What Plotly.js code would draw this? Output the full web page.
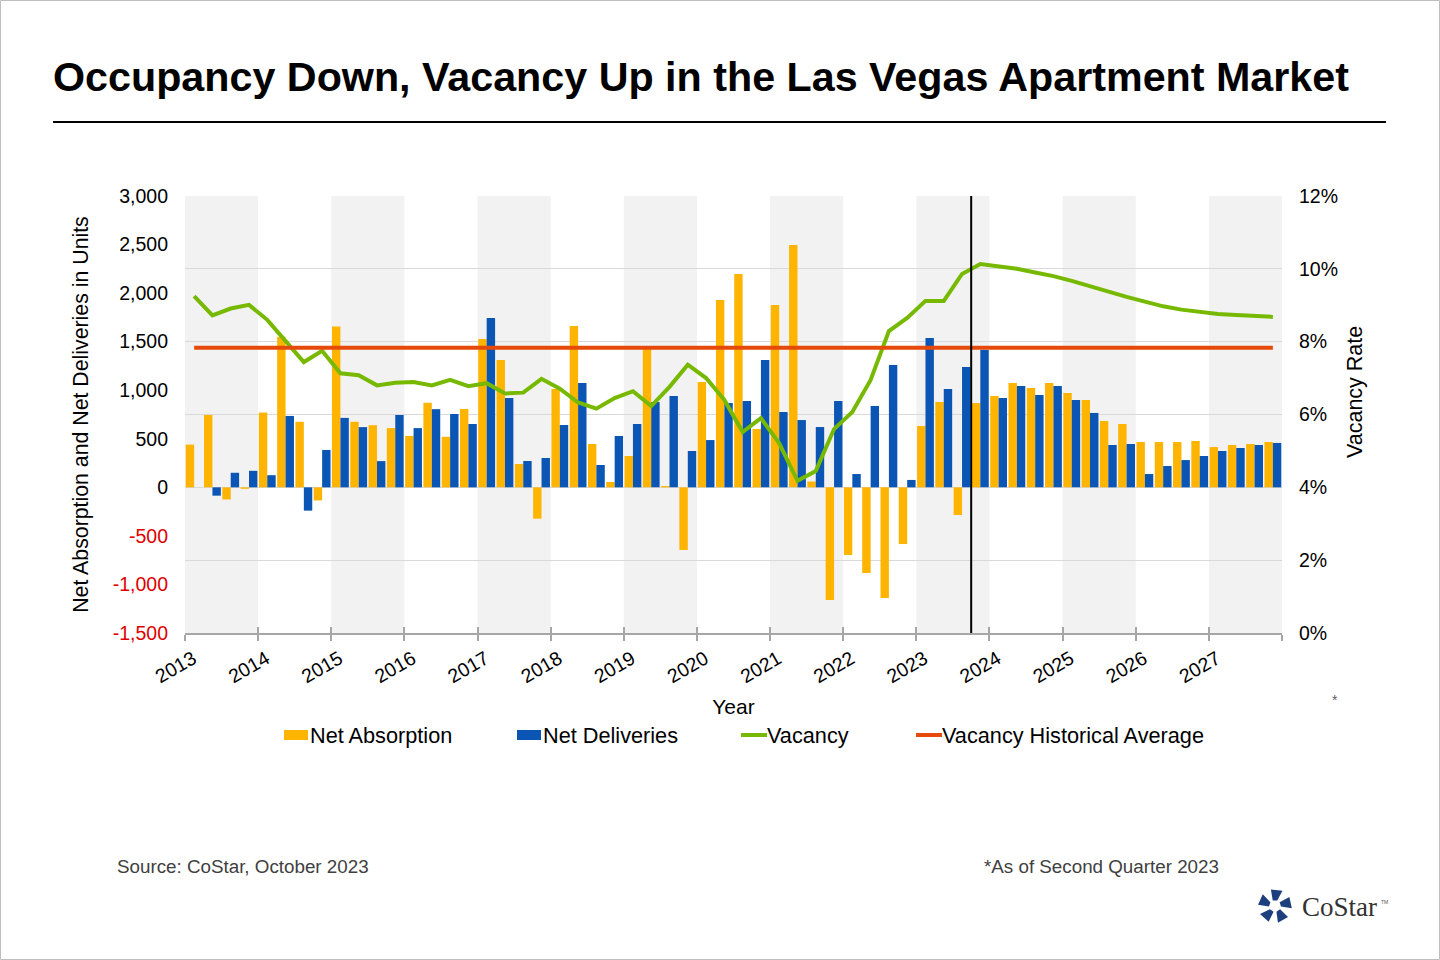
<!DOCTYPE html>
<html>
<head>
<meta charset="utf-8">
<script src="https://cdn.plot.ly/plotly-3.0.1.min.js"></script>
<style>
  html, body { margin: 0; padding: 0; background: #fff; }
  #chart { width: 1440px; height: 960px; }
</style>
</head>
<body>
<div id="chart"></div>
<script>
// quarterly values, 2013 Q1 .. 2027 Q4
const years = [2013, 2014, 2015, 2016, 2017, 2018, 2019, 2020, 2021, 2022, 2023, 2024, 2025, 2026, 2027];
const quarters = ['Q1', 'Q2', 'Q3', 'Q4'];

const netAbsorption = [
  440, 745, -125, -15,
  770, 1550, 675, -135,
  1655, 675, 640, 610,
  530, 870, 520, 807,
  1528, 1311, 240, -323,
  1013, 1662, 446, 55,
  323, 1425, 14, -645,
  1085, 1929, 2197, 601,
  1878, 2496, 60, -1160,
  -697, -882, -1140, -584,
  632, 879, -285, 868,
  940, 1075, 1023, 1075,
  971, 899, 683, 652,
  467, 467, 467, 477,
  415, 436, 446, 467
];

const netDeliveries = [
  0, -86, 150, 170,
  125, 735, -240, 385,
  715, 620, 270, 745,
  610, 805, 755, 652,
  1744, 920, 271, 302,
  642, 1075, 230, 529,
  652, 879, 940, 374,
  487, 868, 889, 1311,
  776, 693, 621, 889,
  137, 838, 1260, 76,
  1538, 1013, 1239, 1414,
  920, 1044, 951, 1044,
  899, 766, 436, 446,
  137, 220, 281, 323,
  374, 405, 436, 457
];

// vacancy rate, %
const vacancy = [
  9.25, 8.72, 8.91, 9.01,
  8.60, 8.00, 7.44, 7.75,
  7.13, 7.08, 6.80, 6.87,
  6.89, 6.80, 6.95, 6.78,
  6.86, 6.58, 6.60, 6.98,
  6.71, 6.33, 6.16, 6.45,
  6.64, 6.23, 6.76, 7.37,
  7.00, 6.40, 5.52, 5.90,
  5.21, 4.18, 4.45, 5.60,
  6.07, 6.95, 8.29, 8.65,
  9.12, 9.12, 9.86, 10.13,
  10.07, 10.00, 9.90, 9.80,
  9.67, 9.52, 9.37, 9.23,
  9.10, 8.97, 8.88, 8.81,
  8.76, 8.73, 8.71, 8.68
];
const vacancyHistoricalAverage = 7.83;
const forecastStart = 2023.75;

const leftTicks = [-1500, -1000, -500, 0, 500, 1000, 1500, 2000, 2500, 3000];
const legendLabels = ['Net Absorption', 'Net Deliveries', 'Vacancy', 'Vacancy Historical Average'];

const colors = {
  absorption: '#FFB400',
  deliveries: '#0B56B4',
  vacancy: '#76B900',
  average: '#E64A0A'
};
const font = 'Liberation Sans, Arial, sans-serif';
const axisGrey = '#A6A6A6';

// one x position per quarter, centred inside its year
const periods = years.flatMap(y => quarters.map((q, i) => y + (i + 0.5) / 4));

// pixel -> paper helpers (plot area is 185..1282 x 196..633)
const px = x => (x - 185) / 1097;
const py = y => (633 - y) / 437;

const traces = [
  {
    x: periods, y: netAbsorption, type: 'bar', name: legendLabels[0],
    marker: { color: colors.absorption }, showlegend: false
  },
  {
    x: periods, y: netDeliveries, type: 'bar', name: legendLabels[1],
    marker: { color: colors.deliveries }, showlegend: false
  },
  {
    x: periods, y: vacancy, type: 'scatter', mode: 'lines', name: legendLabels[2], yaxis: 'y2',
    line: { color: colors.vacancy, width: 4 }, showlegend: false
  },
  {
    x: periods, y: periods.map(() => vacancyHistoricalAverage), type: 'scatter', mode: 'lines',
    name: legendLabels[3], yaxis: 'y2',
    line: { color: colors.average, width: 4 }, showlegend: false
  },
  // empty traces so the helper axes (labels / inner ticks) get drawn
  { x: [], y: [], type: 'scatter', xaxis: 'x2', showlegend: false, hoverinfo: 'skip' },
  { x: [], y: [], type: 'scatter', xaxis: 'x3', showlegend: false, hoverinfo: 'skip' }
];

const shapes = [];
years.forEach((y, i) => {
  if (i % 2 === 0) {
    shapes.push({
      type: 'rect', xref: 'x', yref: 'paper', x0: y, x1: y + 1, y0: 0, y1: 1,
      fillcolor: '#F2F2F2', line: { width: 0 }, layer: 'below'
    });
  }
});
shapes.push({
  type: 'line', xref: 'x', yref: 'paper', x0: forecastStart, x1: forecastStart, y0: 0, y1: 1,
  line: { color: '#000', width: 2 }, layer: 'above'
});
// rule under the title
shapes.push({
  type: 'line', xref: 'paper', yref: 'paper', x0: px(53), x1: px(1386), y0: py(122), y1: py(122),
  line: { color: '#000', width: 2 }
});
// frame
shapes.push({
  type: 'rect', xref: 'paper', yref: 'paper', x0: px(0.5), x1: px(1439.5), y0: py(959.5), y1: py(0.5),
  line: { color: '#BFBFBF', width: 1 }
});

// legend drawn by hand to match the source spacing
const legendY = 735;
const legendItems = [
  { x: 284, text: legendLabels[0], kind: 'box', color: colors.absorption },
  { x: 517, text: legendLabels[1], kind: 'box', color: colors.deliveries },
  { x: 741, text: legendLabels[2], kind: 'line', color: colors.vacancy },
  { x: 916, text: legendLabels[3], kind: 'line', color: colors.average }
];
const annotations = [];
legendItems.forEach(it => {
  if (it.kind === 'box') {
    shapes.push({
      type: 'rect', xref: 'paper', yref: 'paper', x0: px(it.x), x1: px(it.x + 24),
      y0: py(legendY + 5), y1: py(legendY - 5), fillcolor: it.color, line: { width: 0 }
    });
  } else {
    shapes.push({
      type: 'line', xref: 'paper', yref: 'paper', x0: px(it.x), x1: px(it.x + 26),
      y0: py(legendY), y1: py(legendY), line: { color: it.color, width: 4 }
    });
  }
  annotations.push({
    xref: 'paper', yref: 'paper', x: px(it.x + 24), y: py(legendY), xanchor: 'left', yanchor: 'middle',
    text: it.text, showarrow: false, font: { family: font, size: 21.7, color: '#000' }
  });
});

// CoStar mark: five blades around a centre
const logoCx = 1275, logoCy = 906;
for (let k = 0; k < 5; k++) {
  const t = -90 + 72 * k;
  const pts = [[6, t - 22], [6, t + 22], [17, t + 26], [17, t - 14]].map(([r, a]) => {
    const rad = a * Math.PI / 180;
    return [px(logoCx + r * Math.cos(rad)), py(logoCy + r * Math.sin(rad))];
  });
  shapes.push({
    type: 'path', xref: 'paper', yref: 'paper',
    path: 'M' + pts.map(p => p[0] + ',' + p[1]).join(' L') + ' Z',
    fillcolor: '#1E3F7D', line: { width: 0 }
  });
}

annotations.push(
  {
    xref: 'paper', yref: 'paper', x: px(1355), y: py(392), xanchor: 'center', yanchor: 'middle',
    textangle: -90, text: 'Vacancy Rate', showarrow: false,
    font: { family: font, size: 21.5, color: '#000' }
  },
  {
    xref: 'paper', yref: 'paper', x: px(115), y: py(866), xanchor: 'left', yanchor: 'middle',
    text: 'Source: CoStar, October 2023', showarrow: false, font: { family: font, size: 18.8, color: '#404040' }
  },
  {
    xref: 'paper', yref: 'paper', x: px(982), y: py(866), xanchor: 'left', yanchor: 'middle',
    text: '*As of Second Quarter 2023', showarrow: false, font: { family: font, size: 18.8, color: '#404040' }
  },
  {
    xref: 'paper', yref: 'paper', x: px(1335), y: py(700), xanchor: 'center', yanchor: 'middle',
    text: '*', showarrow: false, font: { family: font, size: 14, color: '#606060' }
  },
  {
    xref: 'paper', yref: 'paper', x: px(1300), y: py(907), xanchor: 'left', yanchor: 'middle',
    text: 'CoStar', showarrow: false, font: { family: 'Liberation Serif, Times New Roman, serif', size: 27, color: '#333' }
  },
  {
    xref: 'paper', yref: 'paper', x: px(1379), y: py(902), xanchor: 'left', yanchor: 'middle',
    text: 'TM', showarrow: false, font: { family: font, size: 5, color: '#555' }
  }
);

// year labels sit a little right of their ticks in the source
const labelShift = 0.11;

const layout = {
  width: 1440,
  height: 960,
  margin: { l: 185, r: 158, t: 196, b: 327, pad: 0 },
  paper_bgcolor: '#fff',
  plot_bgcolor: 'rgba(0,0,0,0)',
  font: { family: font, size: 19.5, color: '#000' },
  title: {
    text: '<b>Occupancy Down, Vacancy Up in the Las Vegas Apartment Market</b>',
    font: { family: font, size: 41.25, color: '#000' },
    xref: 'container', yref: 'container',
    x: 53 / 1440, xanchor: 'left',
    y: 1 - 77 / 960, yanchor: 'middle'
  },
  barmode: 'group',
  bargap: 0.08,
  bargroupgap: 0,
  showlegend: false,
  xaxis: {
    range: [2013, 2028],
    tickvals: years.concat([2028]),
    showticklabels: false,
    ticks: 'outside', ticklen: 6, tickwidth: 2, tickcolor: axisGrey,
    showline: true, linecolor: axisGrey, linewidth: 2,
    showgrid: false, zeroline: false
  },
  xaxis2: {
    overlaying: 'x', anchor: 'y', side: 'bottom',
    range: [2013, 2028],
    tickvals: years.map(y => y + labelShift),
    ticktext: years.map(String),
    tickangle: -30,
    ticks: 'outside', ticklen: 6, tickcolor: 'rgba(0,0,0,0)',
    showline: false, showgrid: false, zeroline: false,
    tickfont: { family: font, size: 19.5, color: '#000' },
    title: { text: 'Year', font: { family: font, size: 21, color: '#000' }, standoff: 13 }
  },
  xaxis3: {
    overlaying: 'x', anchor: 'y', side: 'bottom',
    range: [2013, 2028],
    tickvals: years.concat([2028]),
    showticklabels: false,
    ticks: 'inside', ticklen: 6, tickwidth: 2, tickcolor: axisGrey,
    showline: false, showgrid: false, zeroline: false
  },
  yaxis: {
    range: [-1500, 3000],
    tickvals: leftTicks,
    ticktext: leftTicks.map(v => {
      const s = v.toLocaleString('en-US');
      return v < 0 ? '<span style="color:#E00000">' + s + '</span>' : s;
    }),
    ticks: '', ticklabelstandoff: 16,
    showgrid: false, zeroline: false, showline: false,
    tickfont: { family: font, size: 19.5, color: '#000' },
    title: {
      text: 'Net Absorption and Net Deliveries in Units',
      font: { family: font, size: 21.3, color: '#000' }, standoff: 18
    }
  },
  yaxis2: {
    overlaying: 'y', side: 'right',
    range: [0, 12], dtick: 2, tick0: 0, ticksuffix: '%',
    ticks: '', ticklabelstandoff: 16,
    showgrid: true, gridcolor: '#D9D9D9', gridwidth: 1,
    zeroline: false, showline: false,
    tickfont: { family: font, size: 19.5, color: '#000' }
  },
  shapes: shapes,
  annotations: annotations
};

Plotly.newPlot('chart', traces, layout, { staticPlot: true, displayModeBar: false });
</script>
</body>
</html>
